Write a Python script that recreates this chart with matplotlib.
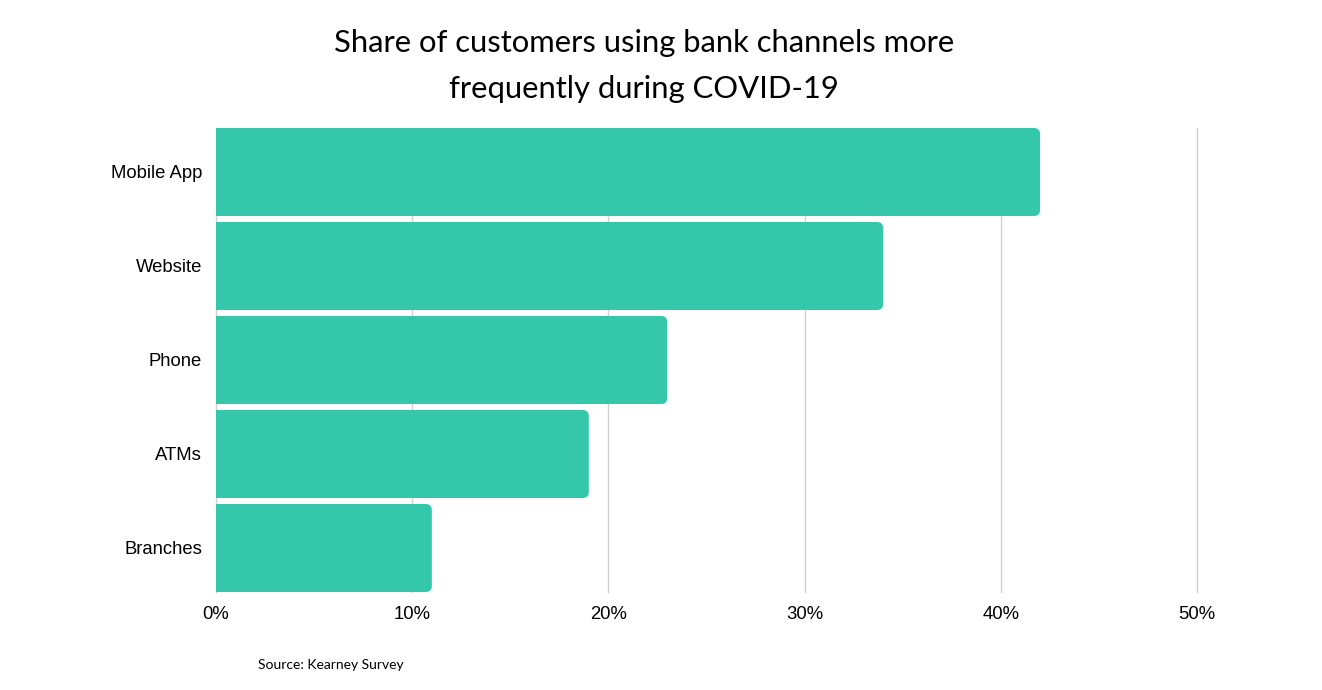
import matplotlib
matplotlib.use("Agg")
import matplotlib.pyplot as plt
from matplotlib.patches import FancyBboxPatch, Rectangle

categories = ["Mobile App", "Website", "Phone", "ATMs", "Branches"]
values = [42, 34, 23, 19, 11]
xticks = [0, 10, 20, 30, 40, 50]
xtick_labels = ["0%", "10%", "20%", "30%", "40%", "50%"]
title = "Share of customers using bank channels more\nfrequently during COVID-19"
source = "Source: Kearney Survey"

color = "#34C7AA"
W, H = 1322, 690
fig = plt.figure(figsize=(W / 100, H / 100), dpi=100)
ax = fig.add_axes([216 / W, 1 - 592 / H, (1197 - 216) / W, (592 - 128) / H])

bar_h = 88 / 94
ax.set_xlim(0, 50)
ax.set_ylim(len(categories) - 1 + bar_h / 2, -bar_h / 2)

px_x = (1197 - 216) / 50
px_y = 94.0
r_px = 6
for i, v in enumerate(values):
    rx = r_px / px_x
    p = FancyBboxPatch((0, i - bar_h / 2), v, bar_h,
                       boxstyle=f"round,pad=0,rounding_size={rx}",
                       mutation_aspect=px_x / px_y,
                       facecolor=color, edgecolor="none", zorder=3)
    ax.add_patch(p)
    ax.add_patch(Rectangle((0, i - bar_h / 2), v / 2, bar_h,
                           facecolor=color, edgecolor="none", zorder=3))

ax.set_yticks(range(len(categories)))
ax.set_yticklabels(categories, fontsize=13.3, family=["Liberation Sans", "DejaVu Sans"])
ax.set_xticks(xticks)
ax.set_xticklabels(xtick_labels, fontsize=13.3, family=["Liberation Sans", "DejaVu Sans"])
ax.tick_params(axis="both", length=0, colors="black")
ax.tick_params(axis="y", pad=10)
ax.tick_params(axis="x", pad=10)
ax.grid(axis="x", color="#d0d0d0", linewidth=1.0, zorder=0)
for gl in ax.get_xgridlines():
    gl.set_clip_on(False)
for s in ax.spines.values():
    s.set_visible(False)

fig.text(644 / W, 1 - 66 / H, title, ha="center", va="center", fontsize=22.3,
         family=["Lato", "DejaVu Sans"], linespacing=1.75)
fig.text(258 / W, 1 - 665 / H, source, ha="left", va="center", fontsize=10,
         family=["Lato", "DejaVu Sans"])

fig.savefig("out.png", dpi=100)
